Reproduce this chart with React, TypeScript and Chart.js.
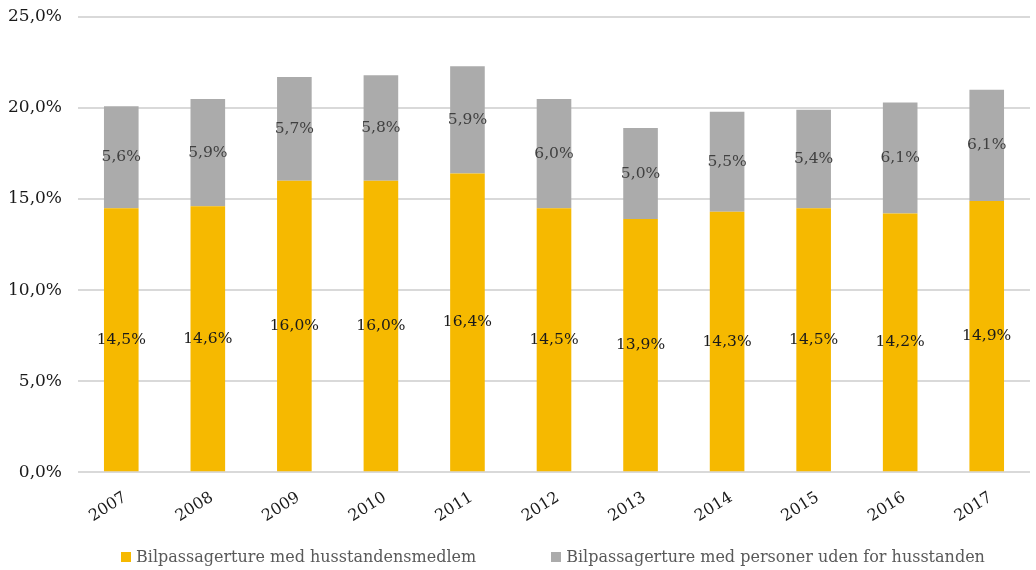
import React, { useEffect, useRef } from "react";
import { Chart, registerables } from "chart.js";

Chart.register(...registerables);

const categories = ["2007", "2008", "2009", "2010", "2011", "2012", "2013", "2014", "2015", "2016", "2017"];
const householdValues = [14.5, 14.6, 16.0, 16.0, 16.4, 14.5, 13.9, 14.3, 14.5, 14.2, 14.9];
const otherValues = [5.6, 5.9, 5.7, 5.8, 5.9, 6.0, 5.0, 5.5, 5.4, 6.1, 6.1];
const seriesNames = [
  "Bilpassagerture med husstandensmedlem",
  "Bilpassagerture med personer uden for husstanden",
];
const seriesColors = ["#F6B900", "#ABABAB"];

const FONT = "'DejaVu Serif', Georgia, serif";
const fmt = (v: number) => v.toFixed(1).replace(".", ",") + "%";

const labelPlugin = {
  id: "segLabels",
  afterDatasetsDraw(chart: any) {
    const ctx = chart.ctx;
    ctx.save();
    ctx.font = `15.5px ${FONT}`;
    ctx.textAlign = "center";
    ctx.textBaseline = "middle";
    chart.data.datasets.forEach((ds: any, di: number) => {
      const meta = chart.getDatasetMeta(di);
      ctx.fillStyle = di === 0 ? "#1a1a1a" : "#404040";
      meta.data.forEach((bar: any, i: number) => {
        const y = (bar.y + bar.base) / 2;
        ctx.fillText(fmt(ds.data[i]), bar.x, y);
      });
    });
    ctx.restore();
  },
};

export default function App() {
  const ref = useRef<HTMLCanvasElement>(null);
  useEffect(() => {
    document.body.style.margin = "0";
    const chart = new Chart(ref.current!, {
      type: "bar",
      data: {
        labels: categories,
        datasets: [
          { label: seriesNames[0], data: householdValues, backgroundColor: seriesColors[0] },
          { label: seriesNames[1], data: otherValues, backgroundColor: seriesColors[1] },
        ],
      },
      options: {
        animation: false,
        responsive: false,
        maintainAspectRatio: false,
        layout: { padding: { left: 4, right: 6, top: 17, bottom: 36 } },
        datasets: { bar: { barPercentage: 0.4, categoryPercentage: 1 } },
        scales: {
          x: {
            stacked: true,
            grid: { display: false },
            border: { display: false },
            afterFit: (s: any) => {
              s.paddingLeft = 0;
              s.paddingRight = 0;
            },
            ticks: {
              font: { family: FONT, size: 16 },
              color: "#1a1a1a",
              minRotation: 32,
              maxRotation: 32,
              padding: 8,
              labelOffset: 4,
            },
          },
          y: {
            stacked: true,
            min: 0,
            max: 25,
            grid: { color: "#D9D9D9", lineWidth: 2, drawTicks: false },
            border: { display: false },
            afterFit: (s: any) => {
              s.width = 74;
              s.paddingTop = 0;
              s.paddingBottom = 0;
            },
            ticks: {
              stepSize: 5,
              padding: 16,
              font: { family: FONT, size: 17 },
              color: "#1a1a1a",
              callback: (v: any) => fmt(Number(v)),
            },
          },
        },
        plugins: {
          legend: { display: false },
          tooltip: { enabled: false },
        },
      },
      plugins: [labelPlugin],
    });
    return () => chart.destroy();
  }, []);
  return (
    <div style={{ position: "relative", width: 1036, height: 570 }}>
      <canvas ref={ref} width={1036} height={570} style={{ width: 1036, height: 570, display: "block" }} />
      <div
        style={{
          position: "absolute",
          left: 121,
          top: 546,
          display: "flex",
          gap: 75,
          fontFamily: FONT,
          fontSize: 16,
          color: "#595959",
          whiteSpace: "nowrap",
          lineHeight: "22px",
        }}
      >
        {seriesNames.map((n, i) => (
          <div key={n} style={{ display: "flex", alignItems: "center" }}>
            <span style={{ width: 10, height: 10, background: seriesColors[i], display: "inline-block", marginRight: 5 }} />
            <span>{n}</span>
          </div>
        ))}
      </div>
    </div>
  );
}
